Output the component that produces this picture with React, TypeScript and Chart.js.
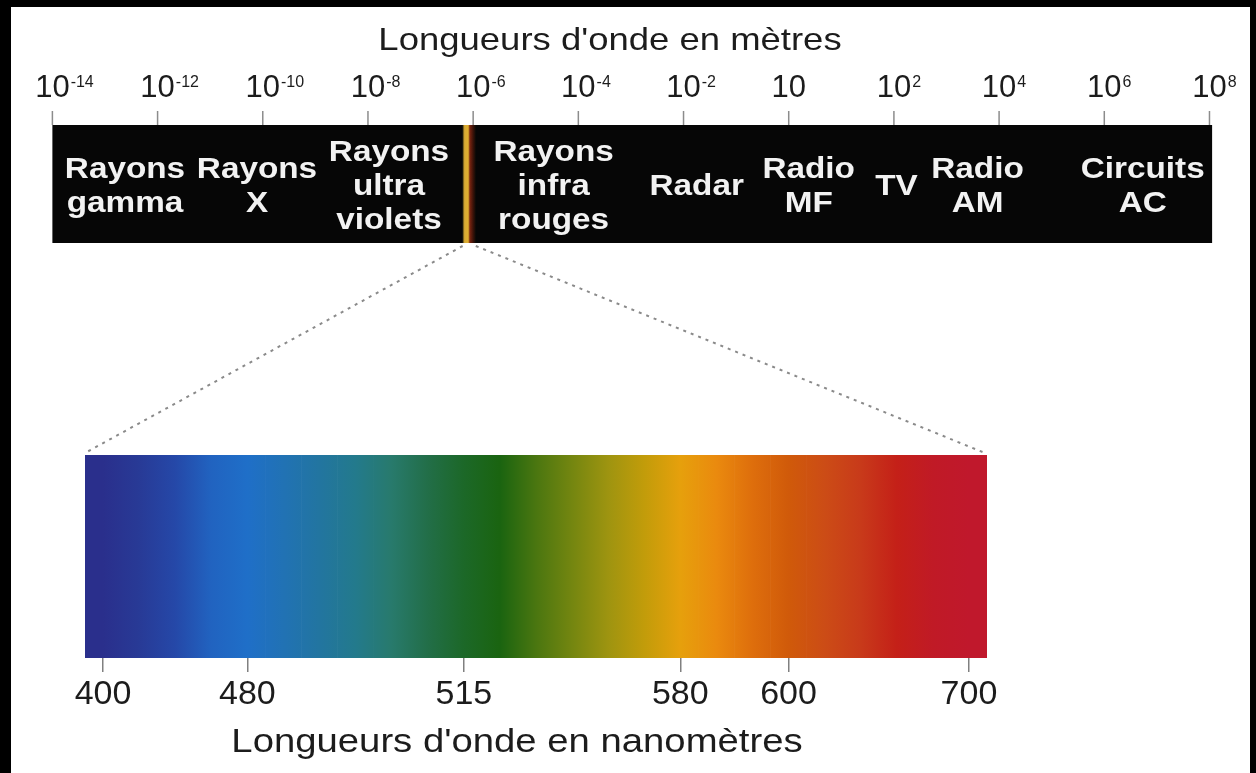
import React, { useEffect, useRef } from 'react';
import { Chart, registerables } from 'chart.js';

Chart.register(...registerables);

// ---- Data ----
const METRE_TICK_EXPONENTS = [-14, -12, -10, -8, -6, -4, -2, 0, 2, 4, 6, 8];
const METRE_TICK_POWERS = ['-14', '-12', '-10', '-8', '-6', '-4', '-2', '', '2', '4', '6', '8'];
const BAND_EXTENT = [-14, 8.05];
const BAND_NAMES = [
  ['Rayons', 'gamma'],
  ['Rayons', 'X'],
  ['Rayons', 'ultra', 'violets'],
  ['Rayons', 'infra', 'rouges'],
  ['Radar'],
  ['Radio', 'MF'],
  ['TV'],
  ['Radio', 'AM'],
  ['Circuits', 'AC'],
];
const BAND_CENTRES = [-12.62, -10.11, -7.6, -4.47, -1.75, 0.38, 2.05, 3.59, 6.73];
const VISIBLE_EXTENT = [-6.2, -5.95];

const NM_TICK_LABELS = [
  '400', '', '', '', '480', '', '', '', '', '', '515', '', '', '', '', '', '580', '', '', '600', '', '', '', '', '700',
];
const SPECTRUM_LEVELS = [1, 1, 1, 1, 1, 1, 1, 1, 1, 1, 1, 1, 1, 1, 1, 1, 1, 1, 1, 1, 1, 1, 1, 1, 1];
const SPECTRUM_COLOURS = [
  '#2a2f8c', '#283a96', '#2548a8', '#2163c0', '#1f6fc8', '#2172b4', '#2275a0', '#237a8c', '#287a6c',
  '#226e48', '#1c6828', '#1a6410', '#4a7610', '#748610', '#9e9410', '#c29c0a', '#e6a00c', '#ea8a0e',
  '#de6e0c', '#d05a0a', '#cc4c16', '#c83a1a', '#c42018', '#c01a26', '#c0182c',
];

const TOP_TITLE = "Longueurs d'onde en mètres";
const BOTTOM_TITLE = "Longueurs d'onde en nanomètres";

const FONT = '"Liberation Sans", Arial, Helvetica, sans-serif';

function drawText(
  c: CanvasRenderingContext2D,
  text: string,
  x: number,
  y: number,
  font: string,
  scaleX: number,
  align: 'left' | 'center',
  color: string
) {
  c.save();
  c.font = font;
  c.fillStyle = color;
  c.textBaseline = 'alphabetic';
  c.textAlign = 'left';
  const w = c.measureText(text).width * scaleX;
  const sx = align === 'center' ? x - w / 2 : x;
  c.translate(sx, y);
  c.scale(scaleX, 1);
  c.fillText(text, 0, 0);
  c.restore();
}

const diagramPlugin = {
  id: 'diagram',
  beforeDraw(chart: any) {
    const c: CanvasRenderingContext2D = chart.ctx;
    c.save();
    c.fillStyle = '#000';
    c.fillRect(0, 0, chart.width, chart.height);
    c.fillStyle = '#fff';
    c.fillRect(11, 7, 1239, chart.height - 7);
    c.restore();
  },
  afterDraw(chart: any) {
    const c: CanvasRenderingContext2D = chart.ctx;
    const xs = chart.scales.x;
    const area = chart.chartArea;
    const bandTop = 125;
    const bandBottom = 243;

    // Title (metres)
    drawText(c, TOP_TITLE, 610, 50, `32px ${FONT}`, 1.14, 'center', '#1c1c1c');

    // Metre ticks and labels
    METRE_TICK_EXPONENTS.forEach((v, i) => {
      const px = xs.getPixelForValue(v);
      c.save();
      c.strokeStyle = '#8c8c8c';
      c.lineWidth = 1.5;
      c.beginPath();
      c.moveTo(px, 111);
      c.lineTo(px, bandTop);
      c.stroke();
      c.fillStyle = '#1c1c1c';
      c.textBaseline = 'alphabetic';
      c.textAlign = 'left';
      c.font = `31px ${FONT}`;
      const bw = c.measureText('10').width;
      c.fillText('10', px - bw / 2, 97);
      const pow = METRE_TICK_POWERS[i];
      if (pow) {
        c.font = `16px ${FONT}`;
        c.fillText(pow, px + bw / 2 + 1, 87);
      }
      c.restore();
    });

    // Black band
    const bx0 = xs.getPixelForValue(BAND_EXTENT[0]);
    const bx1 = xs.getPixelForValue(BAND_EXTENT[1]);
    c.save();
    c.fillStyle = '#060606';
    c.fillRect(bx0, bandTop, bx1 - bx0, bandBottom - bandTop);

    // Visible stripe
    const vx0 = xs.getPixelForValue(VISIBLE_EXTENT[0]);
    const vx1 = xs.getPixelForValue(VISIBLE_EXTENT[1]);
    const g = c.createLinearGradient(vx0, 0, vx1, 0);
    g.addColorStop(0, '#3a3010');
    g.addColorStop(0.15, '#d8aa34');
    g.addColorStop(0.42, '#e0b030');
    g.addColorStop(0.55, '#7a2410');
    g.addColorStop(0.8, '#3a1208');
    g.addColorStop(1, '#0c0a06');
    c.fillStyle = g;
    c.fillRect(vx0, bandTop, vx1 - vx0, bandBottom - bandTop);
    c.restore();

    // Band labels
    const lineH = 34;
    const midY = 184;
    BAND_NAMES.forEach((lines, i) => {
      const px = xs.getPixelForValue(BAND_CENTRES[i]);
      const n = lines.length;
      lines.forEach((t, k) => {
        const y = midY - ((n - 1) * lineH) / 2 + k * lineH + 10.7;
        drawText(c, t, px, y, `bold 30px ${FONT}`, 1.11, 'center', '#f2f2f2');
      });
    });

    // Dotted zoom lines
    c.save();
    c.setLineDash([3, 5]);
    c.strokeStyle = '#8a8a8a';
    c.lineWidth = 2;
    c.beginPath();
    c.moveTo(vx0, bandBottom + 3);
    c.lineTo(area.left, area.top - 2);
    c.moveTo(vx1, bandBottom + 3);
    c.lineTo(area.right - 2, area.top - 2);
    c.stroke();
    c.restore();

    // Title (nanometres)
    drawText(c, BOTTOM_TITLE, 517, 752, `33px ${FONT}`, 1.16, 'center', '#1c1c1c');
  },
};

export default function App() {
  const ref = useRef<HTMLCanvasElement | null>(null);

  useEffect(() => {
    document.body.style.margin = '0';
    document.body.style.overflow = 'hidden';
    const canvas = ref.current;
    if (!canvas) return;
    Chart.defaults.font.family = FONT;

    const chart = new Chart(canvas, {
      type: 'bar',
      data: {
        labels: NM_TICK_LABELS,
        datasets: [
          {
            label: 'Spectre visible',
            data: SPECTRUM_LEVELS,
            xAxisID: 'xnm',
            yAxisID: 'y',
            barPercentage: 1,
            categoryPercentage: 1,
            borderWidth: 0,
            backgroundColor: (ctx: any) => {
              const ch = ctx.chart;
              const area = ch.chartArea;
              if (!area) return SPECTRUM_COLOURS[ctx.dataIndex] || '#000';
              const sc = ch.scales.xnm;
              const w = area.right - area.left;
              const grad = ch.ctx.createLinearGradient(area.left, 0, area.right, 0);
              grad.addColorStop(0, SPECTRUM_COLOURS[0]);
              SPECTRUM_COLOURS.forEach((col, i) => {
                const p = (sc.getPixelForValue(i) - area.left) / w;
                grad.addColorStop(Math.min(1, Math.max(0, p)), col);
              });
              grad.addColorStop(1, SPECTRUM_COLOURS[SPECTRUM_COLOURS.length - 1]);
              return grad;
            },
          },
        ],
      },
      options: {
        animation: false,
        responsive: false,
        layout: { padding: { top: 455, left: 85, right: 269, bottom: 0 } },
        plugins: {
          legend: { display: false },
          tooltip: { enabled: false },
          title: { display: false },
        },
        scales: {
          x: {
            type: 'linear',
            position: 'top',
            min: -13.38,
            max: 3.77,
            display: true,
            offset: false,
            afterFit: (scale: any) => {
              scale.height = 0;
            },
            grid: { display: false },
            border: { display: false },
            ticks: { display: false },
          },
          xnm: {
            type: 'category',
            position: 'bottom',
            offset: true,
            afterFit: (scale: any) => {
              scale.height = 115;
            },
            border: { display: false },
            grid: {
              offset: false,
              drawOnChartArea: false,
              tickLength: 14,
              lineWidth: 1.5,
              color: (ctx: any) => (NM_TICK_LABELS[ctx.index] ? '#808080' : 'rgba(0,0,0,0)'),
            },
            ticks: {
              autoSkip: false,
              maxRotation: 0,
              minRotation: 0,
              padding: 2,
              color: '#1c1c1c',
              font: { size: 34, family: FONT },
            },
          },
          y: {
            type: 'linear',
            min: 0,
            max: 1,
            display: false,
          },
        },
      },
      plugins: [diagramPlugin],
    } as any);

    return () => {
      chart.destroy();
    };
  }, []);

  return (
    <div style={{ width: 1256, height: 773 }}>
      <canvas ref={ref} width={1256} height={773} style={{ display: 'block' }} />
    </div>
  );
}
